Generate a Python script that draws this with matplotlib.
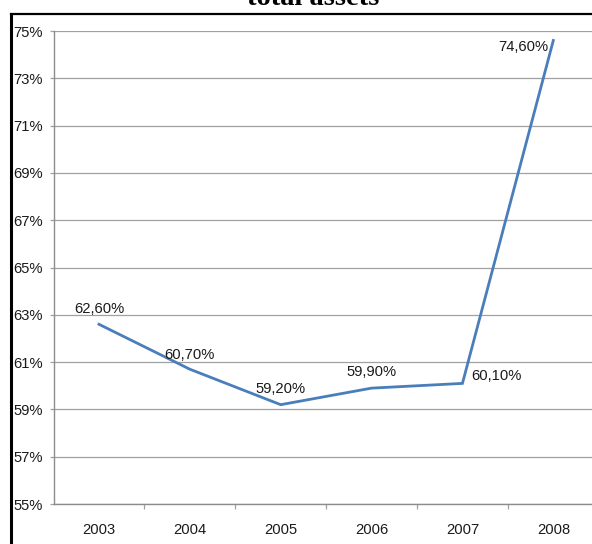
import matplotlib
matplotlib.use("Agg")
import matplotlib.pyplot as plt
from matplotlib import font_manager
from matplotlib.lines import Line2D
from matplotlib.ticker import FixedLocator

years = ["2003", "2004", "2005", "2006", "2007", "2008"]
ratio = [62.6, 60.7, 59.2, 59.9, 60.1, 74.6]
point_labels = ["62,60%", "60,70%", "59,20%", "59,90%", "60,10%", "74,60%"]
y_ticks = list(range(55, 76, 2))

# narrow sans if we have it, plain Liberation Sans otherwise
names = {f.name for f in font_manager.fontManager.ttflist}
if "Liberation Sans Narrow" in names:
    sans = "Liberation Sans Narrow"
    fs = 12
else:
    sans = "Liberation Sans"
    fs = 10.6

line_col = "#4a7ebb"
grid_col = "#a0a0a0"
text_col = "#1a1a1a"

fig = plt.figure(figsize=(5.92, 5.44), dpi=100)
ax = fig.add_axes([0.0904, 0.0735, 0.921, 0.8695])

x = list(range(len(years)))
ax.plot(x, ratio, color=line_col, lw=2.0, solid_joinstyle="miter")

ax.set_xlim(-0.5, len(years) - 0.5)
ax.set_ylim(55, 75)
ax.set_yticks(y_ticks)
ax.set_yticklabels(["%d%%" % v for v in y_ticks])
ax.yaxis.grid(True, color=grid_col, lw=0.9)
ax.set_axisbelow(True)

ax.set_xticks(x)
ax.set_xticklabels(years)
ax.xaxis.set_minor_locator(FixedLocator([i + 0.5 for i in x[:-1]]))
ax.tick_params(axis="x", which="major", length=0, pad=13.5)
ax.tick_params(axis="x", which="minor", length=3.5, color=grid_col, width=0.9)
ax.tick_params(axis="y", length=3.2, color=grid_col, width=0.9, pad=4.5)

for lab in ax.get_xticklabels() + ax.get_yticklabels():
    lab.set_fontfamily(sans)
    lab.set_fontsize(fs)
    lab.set_color(text_col)

for side in ["top", "right"]:
    ax.spines[side].set_visible(False)
for side in ["left", "bottom"]:
    ax.spines[side].set_color("#8c8c8c")
    ax.spines[side].set_linewidth(1.0)

# value labels: offsets in points, alignment per point
offsets = [(0, 10.8), (0, 10), (0, 11.5), (0, 11.5), (6.5, 5), (-3.5, -4.5)]
aligns = ["center", "center", "center", "center", "left", "right"]
for xi, v, s, off, ha in zip(x, ratio, point_labels, offsets, aligns):
    ax.annotate(s, (xi, v), xytext=off, textcoords="offset points",
                ha=ha, va="center", fontfamily=sans, fontsize=fs, color=text_col)

# title sits above the frame, partly cut by the top edge
fig.text(0.529, 0.991, "total assets", ha="center", va="baseline",
         fontfamily="Liberation Serif", fontweight="bold", fontsize=20.5, color="black")

# black frame around the chart (left and top edges visible)
fig.add_artist(Line2D([11 / 592, 11 / 592], [0, 1 - 14 / 544],
                      transform=fig.transFigure, color="black", lw=2.2))
fig.add_artist(Line2D([11 / 592, 1], [1 - 14 / 544, 1 - 14 / 544],
                      transform=fig.transFigure, color="black", lw=1.6))

fig.savefig("out.png", dpi=100)
